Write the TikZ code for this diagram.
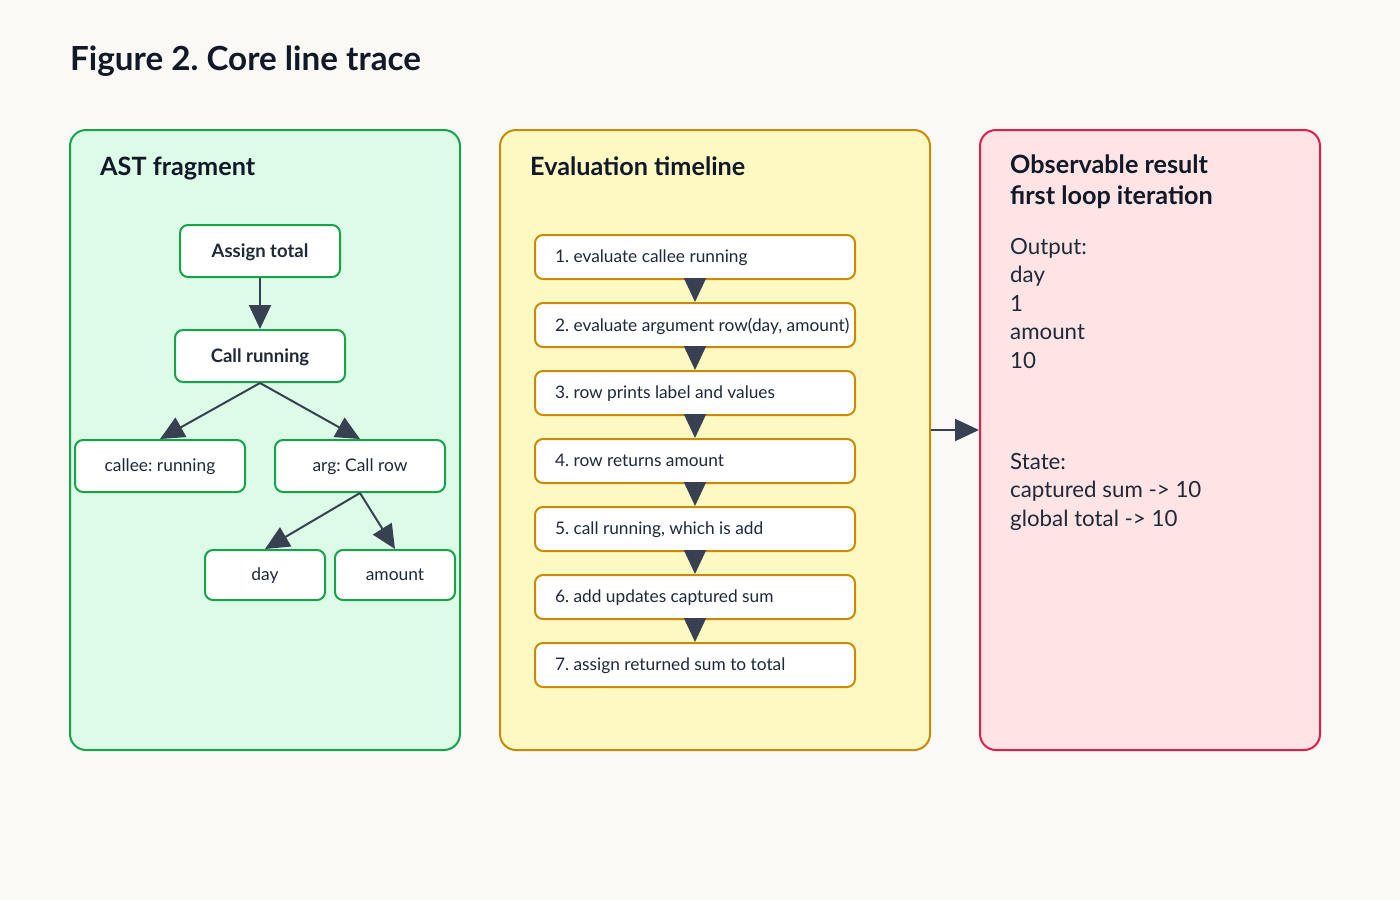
\documentclass[tikz,border=0pt]{standalone}
\usepackage{fontspec}
\setmainfont{Lato}
\frenchspacing
\usetikzlibrary{arrows.meta,positioning}
\definecolor{paper}{HTML}{FAF9F6}
\definecolor{inkdark}{HTML}{111827}
\definecolor{inkbody}{HTML}{1F2937}
\definecolor{arrowink}{HTML}{374151}
\definecolor{astfill}{HTML}{DCFCE7}
\definecolor{astline}{HTML}{16A34A}
\definecolor{evalfill}{HTML}{FEF9C3}
\definecolor{evalline}{HTML}{CA8A04}
\definecolor{resfill}{HTML}{FFE4E6}
\definecolor{resline}{HTML}{E11D48}
\newcommand{\steptext}[1]{\makebox[280pt][l]{#1}}

\begin{document}
\begin{tikzpicture}[x=1pt, y=-1pt, node distance={68pt},
    panel/.style = {line width=2pt, rounded corners=16pt, minimum height=620pt},
    heading/.style = {anchor=base west, inner sep=0pt, text=inkdark, font=\bfseries\fontsize{25.2}{31}\selectfont},
    astnode/.style = {draw=astline, fill=white, line width=2pt, rounded corners=8pt, minimum height=52pt, text depth=1pt, text=inkbody, font=\fontsize{17.4}{20}\selectfont},
    stepbox/.style = {draw=evalline, fill=white, line width=2pt, rounded corners=8pt, minimum width=320pt, minimum height=44pt, inner xsep=0pt, text depth=1pt, text=inkbody, font=\fontsize{17.3}{20}\selectfont},
    flow/.style = {draw=arrowink, line width=2pt, -{Triangle[length=24pt,width=22pt]}},
    bodytext/.style = {anchor=north west, inner sep=0pt, align=left, text=inkbody, font=\fontsize{22.3}{28.5}\selectfont}]

    \fill[paper] (0,0) rectangle (1400,900);
    \node[anchor=base west, inner sep=0pt, text=inkdark, font=\bfseries\fontsize{33.2}{38}\selectfont] (title) at (70,70) {Figure 2. Core line trace};

    \node[panel, draw=astline, fill=astfill, minimum width=390pt] (astpanel) at (265,440) {};
    \node[panel, draw=evalline, fill=evalfill, minimum width=430pt] (evalpanel) at (715,440) {};
    \node[panel, draw=resline, fill=resfill, minimum width=340pt] (resultpanel) at (1150,440) {};

    \node[heading] (asthead) at (100,175) {AST fragment};
    \node[heading] (evalhead) at (530,175) {Evaluation timeline};
    \node[heading, align=left, anchor=north west] (resulthead) at (1010,155) {Observable result\\first loop iteration};

    \node[astnode, minimum width=160pt, font=\bfseries\fontsize{18.5}{20}\selectfont] (assign) at (260,251) {Assign total};
    \node[astnode, minimum width=170pt, font=\bfseries\fontsize{18.5}{20}\selectfont] (call) at (260,356) {Call running};
    \node[astnode, minimum width=170pt] (callee) at (160,466) {callee: running};
    \node[astnode, minimum width=170pt] (arg) at (360,466) {arg: Call row};
    \node[astnode, minimum width=120pt, minimum height=50pt] (day) at (265,575) {day};
    \node[astnode, minimum width=120pt, minimum height=50pt] (amount) at (395,575) {amount};

    \draw[flow] (assign) -- (call);
    \draw[flow] (call.south) -- (callee.north);
    \draw[flow] (call.south) -- (arg.north);
    \draw[flow] (arg.south) -- (day.north);
    \draw[flow] (arg.south) -- (amount.north);

    \node[stepbox] (s1) at (695,257) {\steptext{1. evaluate callee running}};
    \node[stepbox] (s2) [below of=s1] {\steptext{2. evaluate argument row(day, amount)}};
    \node[stepbox] (s3) [below of=s2] {\steptext{3. row prints label and values}};
    \node[stepbox] (s4) [below of=s3] {\steptext{4. row returns amount}};
    \node[stepbox] (s5) [below of=s4] {\steptext{5. call running, which is add}};
    \node[stepbox] (s6) [below of=s5] {\steptext{6. add updates captured sum}};
    \node[stepbox] (s7) [below of=s6] {\steptext{7. assign returned sum to total}};

    \draw[flow] (s1) -- (s2);
    \draw[flow] (s2) -- (s3);
    \draw[flow] (s3) -- (s4);
    \draw[flow] (s4) -- (s5);
    \draw[flow] (s5) -- (s6);
    \draw[flow] (s6) -- (s7);

    \node[bodytext] (output) at (1010,238) {Output:\\day\\1\\amount\\10};
    \node[bodytext] (state) at (1010,453) {State:\\captured sum -> 10\\global total -> 10};

    \draw[flow] ([yshift=10pt]evalpanel.east) -- ([yshift=10pt]resultpanel.west);
\end{tikzpicture}
\end{document}
